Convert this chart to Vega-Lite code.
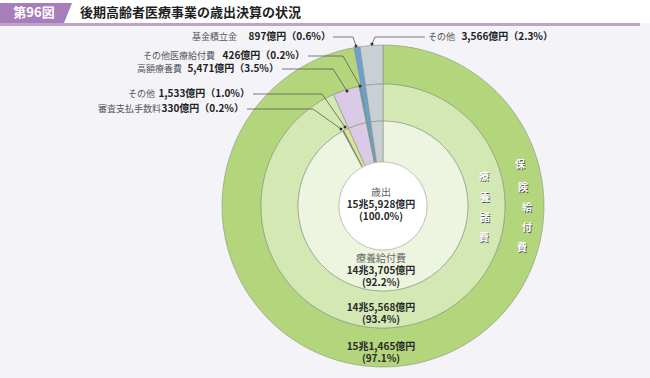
{
  "$schema": "https://vega.github.io/schema/vega-lite/v6.json",
  "width": 322,
  "height": 322,
  "autosize": {"type": "none"},
  "padding": {"left": 222, "top": 45, "right": 106, "bottom": 11},
  "background": "#f4f4f8",
  "config": {"view": {"stroke": null}, "font": "Noto Sans CJK JP", "text": {"font": "Noto Sans CJK JP"}},
  "datasets": {
    "slices": [
      {"ring": "outer", "o": 1, "key": "保険給付費", "amount": 151465},
      {"ring": "outer", "o": 2, "key": "基金積立金", "amount": 897},
      {"ring": "outer", "o": 3, "key": "その他", "amount": 3566},
      {"ring": "middle", "o": 1, "key": "療養諸費", "amount": 145568},
      {"ring": "middle", "o": 2, "key": "高額療養費", "amount": 5471},
      {"ring": "middle", "o": 3, "key": "その他医療給付費", "amount": 426},
      {"ring": "middle", "o": 4, "key": "基金積立金", "amount": 897},
      {"ring": "middle", "o": 5, "key": "その他", "amount": 3566},
      {"ring": "inner", "o": 1, "key": "療養給付費", "amount": 143705},
      {"ring": "inner", "o": 2, "key": "審査支払手数料", "amount": 330},
      {"ring": "inner", "o": 3, "key": "その他（療養諸費）", "amount": 1533},
      {"ring": "inner", "o": 4, "key": "高額療養費", "amount": 5471},
      {"ring": "inner", "o": 5, "key": "その他医療給付費", "amount": 426},
      {"ring": "inner", "o": 6, "key": "基金積立金", "amount": 897},
      {"ring": "inner", "o": 7, "key": "その他", "amount": 3566}
    ],
    "hdrbg": [{"x": -383, "x2": 267, "y": -206, "y2": -183}],
    "hdrband": [{"x": -383, "x2": 257, "y": -183, "y2": -180}],
    "hdrbox": [{"y": -203, "xl": -383, "xr": -311}, {"y": -183, "xl": -383, "xr": -319}],
    "hdrnum": [{"t": "第96図", "x": -349, "y": -193}],
    "hdrtitle": [{"t": "後期高齢者医療事業の歳出決算の状況", "x": -303, "y": -193}],
    "names": [
      {"t": "基金積立金", "x": -191, "y": -169},
      {"t": "その他医療給付費", "x": -240, "y": -150},
      {"t": "高額療養費", "x": -246, "y": -137},
      {"t": "その他", "x": -255, "y": -112},
      {"t": "審査支払手数料", "x": -285, "y": -97},
      {"t": "その他", "x": 45, "y": -169}
    ],
    "values": [
      {"t": "897億円（0.6%）", "x": -52, "y": -169},
      {"t": "426億円（0.2%）", "x": -78, "y": -150},
      {"t": "5,471億円（3.5%）", "x": -104, "y": -137},
      {"t": "1,533億円（1.0%）", "x": -133, "y": -112},
      {"t": "330億円（0.2%）", "x": -139, "y": -97},
      {"t": "3,566億円（2.3%）", "x": 170, "y": -169}
    ],
    "leaders": [
      {"id": "a", "i": 0, "x": -50, "y": -169}, {"id": "a", "i": 1, "x": -30, "y": -169}, {"id": "a", "i": 2, "x": -27, "y": -160},
      {"id": "b", "i": 0, "x": -75, "y": -150}, {"id": "b", "i": 1, "x": -40, "y": -150}, {"id": "b", "i": 2, "x": -23, "y": -120},
      {"id": "c", "i": 0, "x": -101, "y": -137}, {"id": "c", "i": 1, "x": -50, "y": -137}, {"id": "c", "i": 2, "x": -36, "y": -115},
      {"id": "d", "i": 0, "x": -130, "y": -112}, {"id": "d", "i": 1, "x": -61, "y": -112}, {"id": "d", "i": 2, "x": -38, "y": -79},
      {"id": "e", "i": 0, "x": -136, "y": -97}, {"id": "e", "i": 1, "x": -70, "y": -97}, {"id": "e", "i": 2, "x": -42, "y": -77},
      {"id": "f", "i": 0, "x": 42, "y": -169}, {"id": "f", "i": 1, "x": -8, "y": -169}, {"id": "f", "i": 2, "x": -11, "y": -162}
    ],
    "ringcat": [
      {"t": "歳出", "x": -2, "y": -13},
      {"t": "療養給付費", "x": -2, "y": 53}
    ],
    "ringnum": [
      {"t": "15兆5,928億円\n(100.0%)", "x": -2, "y": -1},
      {"t": "14兆3,705億円\n(92.2%)", "x": -2, "y": 65},
      {"t": "14兆5,568億円\n(93.4%)", "x": -2, "y": 102},
      {"t": "15兆1,465億円\n(97.1%)", "x": -2, "y": 141}
    ],
    "vchars": [
      {"t": "療", "x": 101, "y": -29},
      {"t": "養", "x": 102, "y": -8},
      {"t": "諸", "x": 102, "y": 12},
      {"t": "費", "x": 101, "y": 32},
      {"t": "保", "x": 137, "y": -41},
      {"t": "険", "x": 140, "y": -18},
      {"t": "給", "x": 144, "y": 2},
      {"t": "付", "x": 144, "y": 22},
      {"t": "費", "x": 139, "y": 42}
    ],
    "hole": [{"x": 0, "y": 0}]
  },
  "layer": [
    {
      "data": {"name": "hdrbg"},
      "mark": {"type": "rect", "color": "#ffffff"},
      "encoding": {
        "x": {"field": "x", "type": "quantitative", "scale": {"domain": [-161, 161], "nice": false, "zero": false}, "axis": null},
        "x2": {"field": "x2"},
        "y": {"field": "y", "type": "quantitative", "scale": {"domain": [-161, 161], "nice": false, "zero": false, "reverse": true}, "axis": null},
        "y2": {"field": "y2"}
      }
    },
    {
      "data": {"name": "hdrband"},
      "mark": {"type": "rect", "color": "#bfa3cc"},
      "encoding": {
        "x": {"field": "x", "type": "quantitative"},
        "x2": {"field": "x2"},
        "y": {"field": "y", "type": "quantitative"},
        "y2": {"field": "y2"}
      }
    },
    {
      "data": {"name": "hdrbox"},
      "mark": {"type": "area", "orient": "horizontal", "color": "#a77eb9", "opacity": 1},
      "encoding": {
        "y": {"field": "y", "type": "quantitative"},
        "x": {"field": "xr", "type": "quantitative"},
        "x2": {"field": "xl"}
      }
    },
    {
      "data": {"name": "hdrnum"},
      "mark": {"type": "text", "color": "#ffffff", "fontSize": 13, "fontWeight": "bold", "align": "center", "baseline": "middle"},
      "encoding": {
        "x": {"field": "x", "type": "quantitative"},
        "y": {"field": "y", "type": "quantitative"},
        "text": {"field": "t"}
      }
    },
    {
      "data": {"name": "hdrtitle"},
      "mark": {"type": "text", "color": "#1e1e1e", "fontSize": 13, "fontWeight": "bold", "align": "left", "baseline": "middle"},
      "encoding": {
        "x": {"field": "x", "type": "quantitative"},
        "y": {"field": "y", "type": "quantitative"},
        "text": {"field": "t"}
      }
    },
    {
      "data": {"name": "slices"},
      "transform": [{"filter": "datum.ring === 'outer'"}],
      "mark": {"type": "arc", "outerRadius": 161, "innerRadius": 122, "stroke": "#87937e", "strokeWidth": 0.6},
      "encoding": {
        "theta": {"field": "amount", "type": "quantitative", "stack": true},
        "order": {"field": "o", "type": "quantitative"},
        "color": {
          "field": "key", "type": "nominal", "legend": null,
          "scale": {
            "domain": ["保険給付費", "療養諸費", "療養給付費", "高額療養費", "その他医療給付費", "基金積立金", "その他", "審査支払手数料", "その他（療養諸費）"],
            "range": ["#b3d57b", "#d4e8b4", "#edf4e0", "#dbcae7", "#3fa9a2", "#6a9fd8", "#c9d0d4", "#2f4a80", "#d8e692"]
          }
        }
      }
    },
    {
      "data": {"name": "slices"},
      "transform": [{"filter": "datum.ring === 'middle'"}],
      "mark": {"type": "arc", "outerRadius": 122, "innerRadius": 85, "stroke": "#87937e", "strokeWidth": 0.6},
      "encoding": {
        "theta": {"field": "amount", "type": "quantitative", "stack": true},
        "order": {"field": "o", "type": "quantitative"},
        "color": {"field": "key", "type": "nominal", "legend": null}
      }
    },
    {
      "data": {"name": "slices"},
      "transform": [{"filter": "datum.ring === 'inner'"}],
      "mark": {"type": "arc", "outerRadius": 85, "innerRadius": 44, "stroke": "#87937e", "strokeWidth": 0.6},
      "encoding": {
        "theta": {"field": "amount", "type": "quantitative", "stack": true},
        "order": {"field": "o", "type": "quantitative"},
        "color": {"field": "key", "type": "nominal", "legend": null}
      }
    },
    {
      "data": {"name": "hole"},
      "mark": {"type": "point", "filled": true, "size": 7744, "color": "#ffffff", "opacity": 1, "stroke": "#b9c2b0", "strokeWidth": 0.6},
      "encoding": {
        "x": {"field": "x", "type": "quantitative"},
        "y": {"field": "y", "type": "quantitative"}
      }
    },
    {
      "data": {"name": "leaders"},
      "mark": {"type": "line", "color": "#5a5a5a", "strokeWidth": 0.8},
      "encoding": {
        "x": {"field": "x", "type": "quantitative"},
        "y": {"field": "y", "type": "quantitative"},
        "detail": {"field": "id"},
        "order": {"field": "i", "type": "quantitative"}
      }
    },
    {
      "data": {"name": "leaders"},
      "transform": [{"filter": "datum.i === 2"}],
      "mark": {"type": "point", "filled": true, "size": 9, "color": "#333333", "opacity": 1},
      "encoding": {
        "x": {"field": "x", "type": "quantitative"},
        "y": {"field": "y", "type": "quantitative"}
      }
    },
    {
      "data": {"name": "names"},
      "mark": {"type": "text", "color": "#555555", "fontSize": 9, "align": "left", "baseline": "middle"},
      "encoding": {
        "x": {"field": "x", "type": "quantitative"},
        "y": {"field": "y", "type": "quantitative"},
        "text": {"field": "t"}
      }
    },
    {
      "data": {"name": "values"},
      "mark": {"type": "text", "color": "#222222", "fontSize": 10, "fontWeight": "bold", "align": "right", "baseline": "middle"},
      "encoding": {
        "x": {"field": "x", "type": "quantitative"},
        "y": {"field": "y", "type": "quantitative"},
        "text": {"field": "t"}
      }
    },
    {
      "data": {"name": "ringcat"},
      "mark": {"type": "text", "color": "#666666", "fontSize": 10, "align": "center", "baseline": "middle"},
      "encoding": {
        "x": {"field": "x", "type": "quantitative"},
        "y": {"field": "y", "type": "quantitative"},
        "text": {"field": "t"}
      }
    },
    {
      "data": {"name": "ringnum"},
      "mark": {"type": "text", "color": "#2a2a2a", "fontSize": 10, "fontWeight": "bold", "align": "center", "baseline": "middle", "lineBreak": "\n", "lineHeight": 12},
      "encoding": {
        "x": {"field": "x", "type": "quantitative"},
        "y": {"field": "y", "type": "quantitative"},
        "text": {"field": "t"}
      }
    },
    {
      "data": {"name": "vchars"},
      "mark": {"type": "text", "color": "#555555", "fontSize": 10, "fontWeight": "bold", "align": "center", "baseline": "middle", "dx": 0.8, "dy": 0.8},
      "encoding": {
        "x": {"field": "x", "type": "quantitative"},
        "y": {"field": "y", "type": "quantitative"},
        "text": {"field": "t"}
      }
    },
    {
      "data": {"name": "vchars"},
      "mark": {"type": "text", "color": "#ffffff", "fontSize": 10, "fontWeight": "bold", "align": "center", "baseline": "middle"},
      "encoding": {
        "x": {"field": "x", "type": "quantitative"},
        "y": {"field": "y", "type": "quantitative"},
        "text": {"field": "t"}
      }
    }
  ]
}
